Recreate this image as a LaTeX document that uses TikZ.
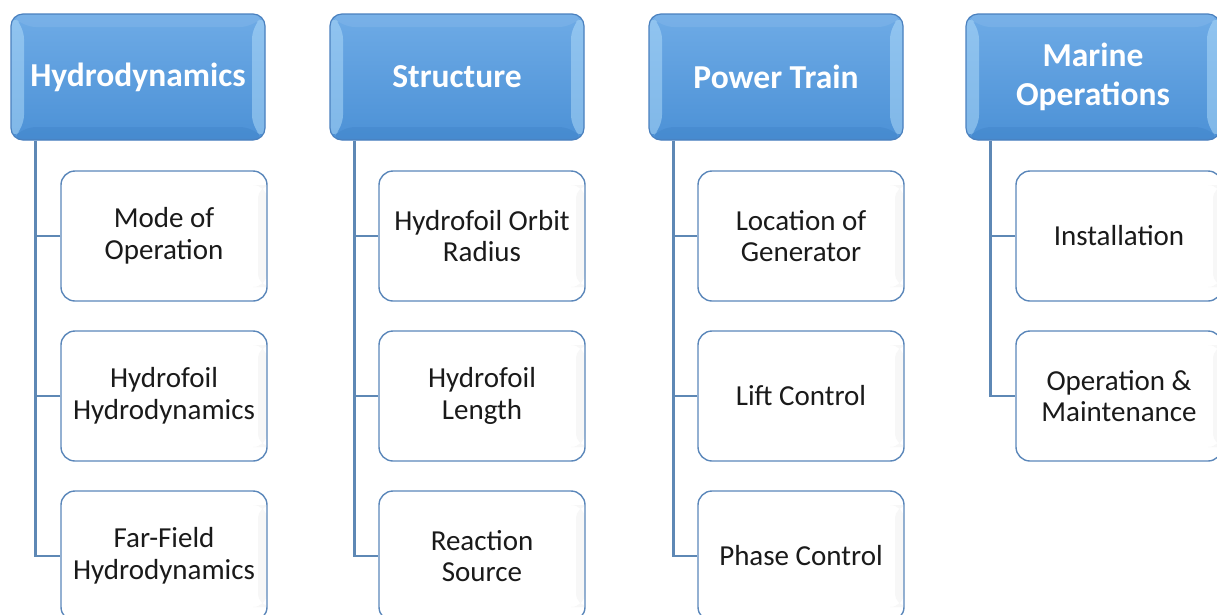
\documentclass[tikz,border=0pt]{standalone}
\usepackage{fontspec}
\setmainfont{Carlito}
\usetikzlibrary{calc}
\definecolor{hdtop}{HTML}{6EABE6}
\definecolor{hdbot}{HTML}{4C91D6}
\definecolor{hdborder}{HTML}{4A80BE}
\definecolor{bevlight}{HTML}{B4DEFA}
\definecolor{bevdark}{HTML}{3A7CC2}
\definecolor{chborder}{HTML}{5B87BA}
\definecolor{conncol}{HTML}{5E88B5}
\definecolor{txt}{HTML}{1A1A1A}
\tikzset{
  hdbox/.style={rounded corners=12pt, draw=hdborder, line width=1.2pt,
    top color=hdtop, bottom color=hdbot,
    minimum width=254pt, minimum height=126pt, inner sep=0pt,
    text=white, align=center,
    font=\bfseries\fontsize{33.5}{39}\selectfont,
    path picture={
      \fill[bevlight,opacity=0.5]
        (path picture bounding box.north west) --
        (path picture bounding box.south west) --
        ([xshift=13pt,yshift=13pt]path picture bounding box.south west) --
        ([xshift=13pt,yshift=-13pt]path picture bounding box.north west) -- cycle;
      \fill[bevlight,opacity=0.5]
        (path picture bounding box.north east) --
        (path picture bounding box.south east) --
        ([xshift=-13pt,yshift=13pt]path picture bounding box.south east) --
        ([xshift=-13pt,yshift=-13pt]path picture bounding box.north east) -- cycle;
      \fill[white,opacity=0.08]
        (path picture bounding box.north west) --
        (path picture bounding box.north east) --
        ([xshift=-13pt,yshift=-13pt]path picture bounding box.north east) --
        ([xshift=13pt,yshift=-13pt]path picture bounding box.north west) -- cycle;
      \fill[bevdark,opacity=0.3]
        (path picture bounding box.south west) --
        (path picture bounding box.south east) --
        ([xshift=-13pt,yshift=13pt]path picture bounding box.south east) --
        ([xshift=13pt,yshift=13pt]path picture bounding box.south west) -- cycle;
    }},
  chbox/.style={rounded corners=14pt, draw=chborder, line width=1.4pt,
    fill=white,
    minimum width=206pt, minimum height=130pt, inner sep=0pt,
    text=txt, align=center,
    font=\fontsize{29}{31.5}\selectfont,
    path picture={
      \fill[black!3]
        ([xshift=-9pt,yshift=-14pt]path picture bounding box.north east) rectangle
        ([yshift=14pt]path picture bounding box.south east);
    }},
  conn/.style={draw=conncol, line width=2.2pt}
}
\begin{document}
\begin{tikzpicture}[x=1pt,y=-1pt]
\useasboundingbox (0,0) rectangle (1217,614);
% column 1
\node[hdbox] (h1) at (138,77) {Hydrodynamics};
\node[chbox] (c11) at (164,236) {Mode of\\Operation};
\node[chbox] (c12) at (164,396) {Hydrofoil\\Hydrodynamics};
\node[chbox] (c13) at (164,556) {Far-Field\\Hydrodynamics};
% column 2
\node[hdbox] (h2) at (457,77) {Structure};
\node[chbox] (c21) at (482,236) {Hydrofoil Orbit\\Radius};
\node[chbox] (c22) at (482,396) {Hydrofoil\\Length};
\node[chbox] (c23) at (482,556) {Reaction\\Source};
% column 3
\node[hdbox] (h3) at (776,77) {Power Train};
\node[chbox] (c31) at (801,236) {Location of\\Generator};
\node[chbox] (c32) at (801,396) {Lift Control};
\node[chbox] (c33) at (801,556) {Phase Control};
% column 4
\node[hdbox] (h4) at (1093,77) {Marine\\Operations};
\node[chbox] (c41) at (1119,236) {Installation};
\node[chbox] (c42) at (1119,396) {Operation \&\\Maintenance};
% connectors
\coordinate (v1) at ([xshift=25pt]h1.south west);
\coordinate (v2) at ([xshift=25pt]h2.south west);
\coordinate (v3) at ([xshift=25pt]h3.south west);
\coordinate (v4) at ([xshift=25pt]h4.south west);
\draw[conn] (v1) |- (c13.west);
\draw[conn] (c11.west) -- (c11.west -| v1);
\draw[conn] (c12.west) -- (c12.west -| v1);
\draw[conn] (v2) |- (c23.west);
\draw[conn] (c21.west) -- (c21.west -| v2);
\draw[conn] (c22.west) -- (c22.west -| v2);
\draw[conn] (v3) |- (c33.west);
\draw[conn] (c31.west) -- (c31.west -| v3);
\draw[conn] (c32.west) -- (c32.west -| v3);
\draw[conn] (v4) |- (c42.west);
\draw[conn] (c41.west) -- (c41.west -| v4);
\end{tikzpicture}
\end{document}
